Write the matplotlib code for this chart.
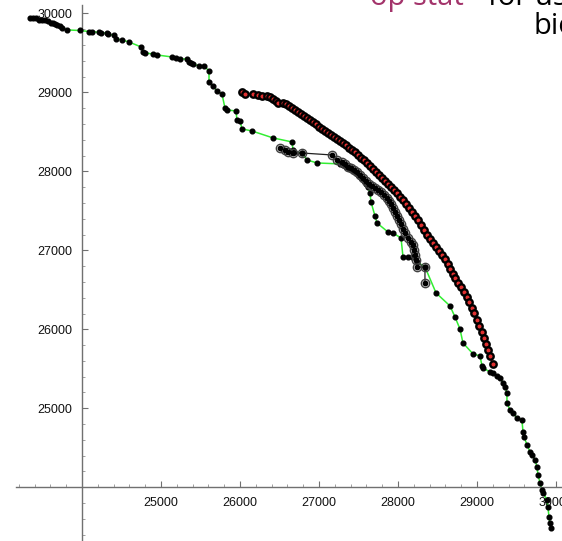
import matplotlib
matplotlib.use("Agg")
import matplotlib.pyplot as plt
from matplotlib.ticker import FixedLocator

plt.rcParams['font.family'] = ['Liberation Sans', 'DejaVu Sans']

# main path (green line, black dots)
main_x = [23342, 23380, 23418, 23456, 23494, 23532, 23570, 23608, 23633, 23658,
          23684, 23721, 23747, 23810, 23975, 24089, 24127, 24215, 24241, 24317,
          24329, 24405, 24430, 24506, 24595, 24747, 24772, 24798, 24899, 24950,
          25139, 25190, 25241, 25329, 25355, 25380, 25405, 25481, 25545, 25608,
          25608, 25658, 25709, 25772, 25810, 25836, 25950, 25962, 26000, 26026,
          26152, 26418, 26659, 26671, 26684, 26785, 26849, 26975, 27266, 27304,
          27342, 27380, 27418, 27456, 27494, 27532, 27570, 27595, 27621, 27646,
          27659, 27709, 27735, 27874, 27937, 28039, 28064, 28127, 28178, 28241,
          28342, 28482, 28659, 28722, 28785, 28823, 28950, 29039, 29064, 29077,
          29165, 29203, 29254, 29292, 29330, 29355, 29380, 29380, 29418, 29456,
          29507, 29570, 29583, 29596, 29634, 29672, 29697, 29735, 29760, 29773,
          29798, 29823, 29836, 29887, 29899, 29912, 29925, 29937]
main_y = [29945, 29945, 29935, 29922, 29916, 29910, 29897, 29884, 29878, 29865,
          29853, 29840, 29815, 29790, 29783, 29770, 29770, 29758, 29751, 29751,
          29739, 29720, 29676, 29663, 29638, 29575, 29517, 29498, 29486, 29473,
          29448, 29441, 29422, 29422, 29384, 29372, 29359, 29334, 29334, 29271,
          29131, 29081, 29017, 28980, 28802, 28777, 28764, 28650, 28638, 28537,
          28511, 28423, 28372, 28271, 28246, 28233, 28144, 28106, 28094, 28081,
          28056, 28043, 28018, 27993, 27955, 27916, 27878, 27840, 27802, 27726,
          27612, 27435, 27346, 27232, 27220, 27156, 26916, 26916, 26916, 26853,
          26790, 26461, 26296, 26157, 26005, 25828, 25689, 25663, 25537, 25511,
          25461, 25448, 25410, 25385, 25322, 25271, 25195, 25069, 24980, 24942,
          24879, 24854, 24702, 24639, 24537, 24449, 24411, 24348, 24259, 24158,
          24057, 23968, 23930, 23841, 23753, 23626, 23550, 23487]

# red path
red_x = [26030, 26060, 26165, 26230, 26280, 26340, 26380, 26420, 26455, 26480,
         26545, 26585, 26620, 26660, 26700, 26735, 26775, 26810, 26850, 26885,
         26925, 26965, 27000, 27040, 27075, 27115, 27150, 27190, 27230, 27265,
         27305, 27340, 27380, 27420, 27455, 27495, 27530, 27570, 27610, 27645,
         27685, 27720, 27760, 27800, 27835, 27875, 27910, 27950, 27990, 28025,
         28065, 28100, 28140, 28180, 28215, 28255, 28290, 28330, 28370, 28405,
         28445, 28480, 28520, 28560, 28595, 28635, 28660, 28695, 28720, 28760,
         28800, 28835, 28875, 28900, 28940, 28965, 29000, 29025, 29065, 29090,
         29115, 29140, 29165, 29205]
red_y = [29000, 28980, 28980, 28965, 28955, 28950, 28940, 28915, 28890, 28865,
         28870, 28850, 28825, 28800, 28780, 28750, 28730, 28700, 28675, 28655,
         28625, 28600, 28565, 28535, 28515, 28485, 28460, 28440, 28410, 28385,
         28360, 28330, 28300, 28270, 28240, 28205, 28175, 28145, 28105, 28070,
         28030, 27990, 27950, 27915, 27880, 27840, 27805, 27765, 27720, 27680,
         27635, 27590, 27535, 27490, 27435, 27385, 27320, 27260, 27195, 27145,
         27095, 27040, 26990, 26935, 26890, 26825, 26765, 26700, 26655, 26585,
         26535, 26470, 26410, 26345, 26270, 26205, 26120, 26040, 25965, 25890,
         25815, 25740, 25660, 25560]

# circle path (black line, open circles)
circ_x = [26507, 26570, 26608, 26671, 26785, 27165, 27228, 27292, 27330, 27368,
          27406, 27444, 27482, 27520, 27558, 27596, 27634, 27672, 27710, 27748,
          27785, 27823, 27861, 27887, 27912, 27937, 27963, 27988, 28013, 28039,
          28064, 28089, 28127, 28165, 28191, 28203, 28216, 28229, 28241, 28342,
          28342]
circ_y = [28295, 28270, 28245, 28232, 28232, 28207, 28143, 28118, 28093, 28055,
          28042, 28017, 27992, 27954, 27916, 27878, 27840, 27814, 27789, 27764,
          27738, 27700, 27662, 27624, 27586, 27536, 27485, 27434, 27384, 27333,
          27270, 27219, 27156, 27105, 27067, 27004, 26941, 26877, 26789, 26789,
          26586]

major_ticks = [25000, 26000, 27000, 28000, 29000, 30000]
minor_ticks = list(range(23200, 30200, 200))

fig = plt.figure(figsize=(5.62, 5.41), dpi=100)
ax = fig.add_axes([0, 0, 1, 1])

ax.plot(main_x, main_y, color='#33ee33', lw=1.1, zorder=2)
ax.plot(main_x, main_y, ls='none', marker='o', ms=3.4, color='black', zorder=3)

ax.plot(circ_x, circ_y, color='#202020', lw=0.9, zorder=2)
ax.plot(circ_x, circ_y, ls='none', marker='o', ms=6, mfc='none', mec='#404040',
        mew=1.0, zorder=3)
ax.plot(circ_x, circ_y, ls='none', marker='o', ms=3.2, color='black', zorder=3)

ax.plot(red_x, red_y, color='#e02020', lw=1.0, zorder=2)
ax.plot(red_x, red_y, ls='none', marker='o', ms=4.6, mfc='#e03030', mec='black',
        mew=1.7, zorder=3)

ax.set_xlim(22962, 30077)
ax.set_ylim(23320, 30169)

# axes crossing at (24000, 24000)
for s in ['top', 'right']:
    ax.spines[s].set_visible(False)
ax.spines['left'].set_position(('data', 24000))
ax.spines['bottom'].set_position(('data', 24000))
ax.spines['left'].set_bounds(23320, 30100)
ax.spines['bottom'].set_bounds(23165, 30077)
for s in ['left', 'bottom']:
    ax.spines[s].set_color('#707070')
    ax.spines[s].set_linewidth(1.0)

ax.xaxis.set_major_locator(FixedLocator(major_ticks))
ax.yaxis.set_major_locator(FixedLocator(major_ticks))
ax.xaxis.set_minor_locator(FixedLocator(minor_ticks))
ax.yaxis.set_minor_locator(FixedLocator(minor_ticks[:-1]))
ax.tick_params(which='major', direction='in', length=4, width=0.8, color='#707070',
               labelsize=9, pad=7, labelcolor='#111111')
ax.tick_params(which='minor', direction='in', length=2.5, width=0.6, color='#909090')

# clipped caption text at the top right
fig.text(370 / 562, 1 - 5 / 541, "op stat", color='#a3346b', fontsize=21,
         family=['Open Sans', 'DejaVu Sans'], va='baseline', ha='left')
fig.text(488 / 562, 1 - 5 / 541, "for us", color='black', fontsize=21,
         family=['Open Sans', 'DejaVu Sans'], va='baseline', ha='left')
fig.text(533 / 562, 1 - 34 / 541, "bio", color='black', fontsize=21,
         family=['Open Sans', 'DejaVu Sans'], va='baseline', ha='left')

fig.savefig("out.png", dpi=100)
